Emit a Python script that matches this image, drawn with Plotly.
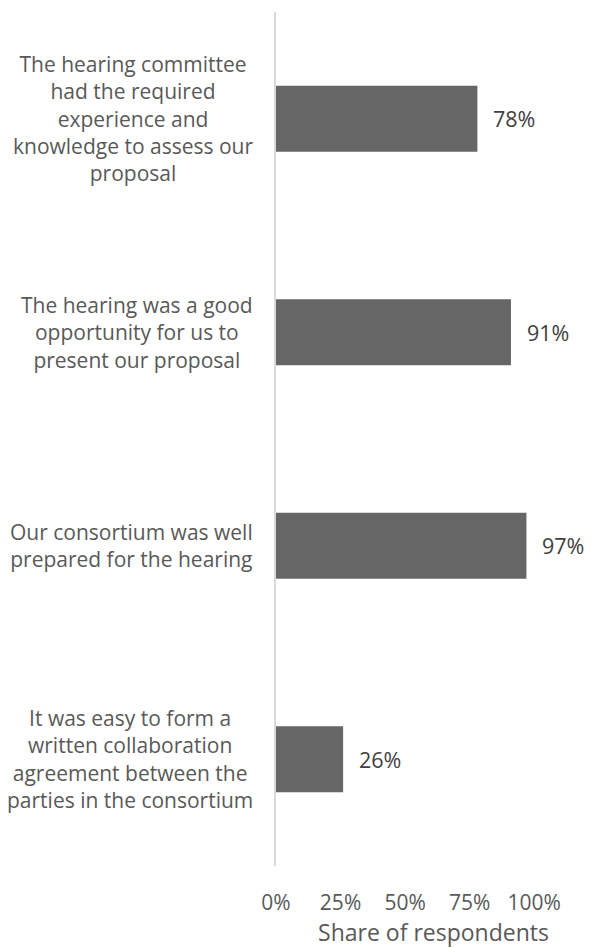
import plotly.graph_objects as go

# Survey statements (top to bottom), already wrapped into lines
statements = [
    "The hearing committee<br>had the required<br>experience and<br>knowledge to assess our<br>proposal",
    "The hearing was a good<br>opportunity for us to<br>present our proposal",
    "Our consortium was well<br>prepared for the hearing",
    "It was easy to form a<br>written collaboration<br>agreement between the<br>parties in the consortium",
]
# Share of respondents agreeing with each statement
shares = [0.78, 0.91, 0.97, 0.26]
tick_values = [0, 0.25, 0.5, 0.75, 1.0]
tick_labels = ["0%", "25%", "50%", "75%", "100%"]

TEXT = "#595959"
FONT = "Open Sans"

fig = go.Figure(
    go.Bar(
        x=shares,
        y=statements,
        orientation="h",
        marker=dict(color="#666666", line=dict(width=0)),
        width=0.31,
        hoverinfo="skip",
    )
)

# Value labels to the right of each bar
for s, v in zip(statements, shares):
    fig.add_annotation(
        x=v, y=s, xref="x", yref="y",
        text=f"{round(v * 100)}%",
        showarrow=False, xanchor="left", xshift=14,
        font=dict(family=FONT, size=21.5, color="#404040"),
    )

# Category labels: lines centred within the block, block right-aligned to the axis
for s in statements:
    fig.add_annotation(
        x=0, y=s, xref="paper", yref="y",
        text=s, showarrow=False, xanchor="right", align="center",
        xshift=-21,
        font=dict(family=FONT, size=21, color=TEXT),
    )

fig.update_layout(
    width=591, height=948,
    margin=dict(l=276, r=0, t=12, b=82),
    paper_bgcolor="white", plot_bgcolor="white",
    showlegend=False,
    xaxis=dict(
        range=[0, 1.22],
        tickvals=tick_values, ticktext=tick_labels,
        showgrid=False, zeroline=False, showline=False,
        ticks="", ticklabelstandoff=22,
        tickfont=dict(family=FONT, size=21, color=TEXT),
        title=dict(text="Share of respondents", standoff=8,
                   font=dict(family=FONT, size=23, color=TEXT)),
        fixedrange=True,
    ),
    yaxis=dict(
        categoryorder="array", categoryarray=statements[::-1],
        showticklabels=False, showgrid=False, zeroline=False,
        showline=True, linecolor="#d9d9d9", linewidth=1.5,
        ticks="", fixedrange=True,
    ),
)

fig.write_html("out.html")
